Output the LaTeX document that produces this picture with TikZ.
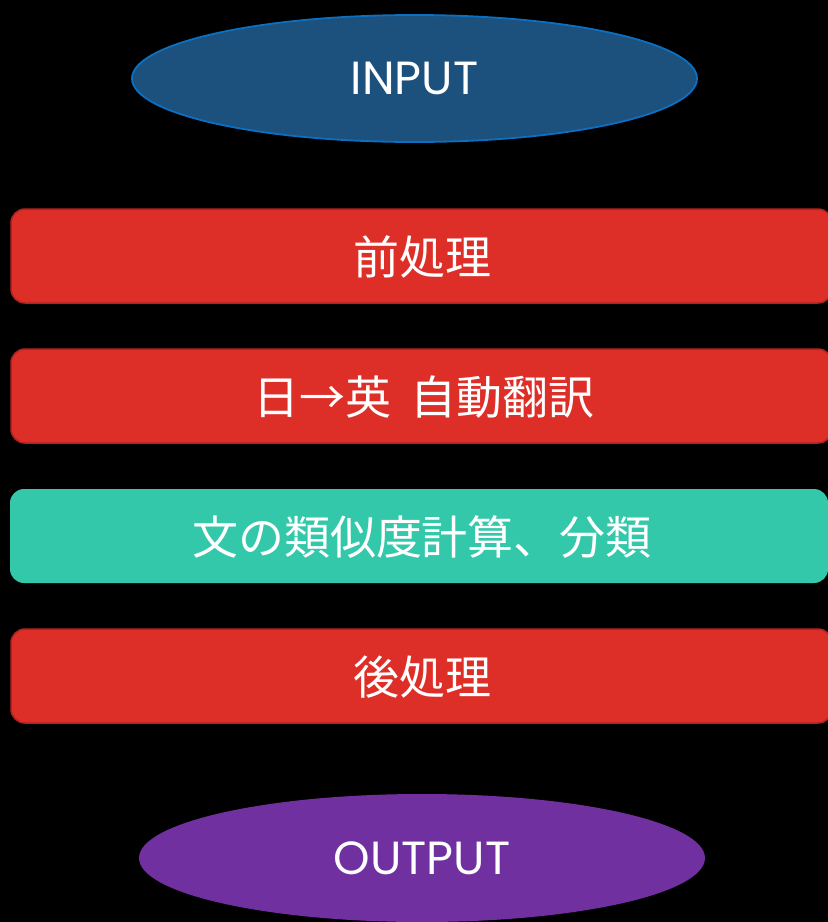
\documentclass[tikz,border=0pt]{standalone}
\usepackage{fontspec}
\setmainfont{Poppins}
\newfontfamily\cjk{Noto Sans CJK JP}
\usetikzlibrary{shapes.geometric}
\definecolor{inblue}{HTML}{1C507D}
\definecolor{inborder}{HTML}{0B70C2}
\definecolor{boxred}{HTML}{DE2E28}
\definecolor{boxredborder}{HTML}{B02420}
\definecolor{boxgreen}{HTML}{33C8AA}
\definecolor{outpurple}{HTML}{7030A0}
\begin{document}
\begin{tikzpicture}[x=1pt,y=-1pt,
  oval/.style={ellipse, inner sep=0pt, text=white, font=\fontsize{46.5}{52}\selectfont},
  stepbox/.style={rounded corners=14pt, line width=1.5pt},
  lbl/.style={text=white, font=\cjk\fontsize{46}{52}\selectfont, inner sep=0pt}]
\fill[black] (0,0) rectangle (828,922);
\useasboundingbox (0,0) rectangle (828,922);
% INPUT
\node[oval, draw=inborder, line width=1.8pt, fill=inblue, minimum width=565pt, minimum height=127pt] (in) at (414.5,78.5) {INPUT};
% boxes
\draw[stepbox, fill=boxred, draw=boxredborder] (11,209) rectangle (832,303);
\node[lbl] (b1) at (422,257) {前処理};
\draw[stepbox, fill=boxred, draw=boxredborder] (11,349) rectangle (832,443);
\node[lbl] (b2) at (424,397) {日→英\hspace{0.4em}自動翻訳};
\fill[boxgreen, rounded corners=14pt] (10,489) rectangle (828,583);
\node[lbl] (b3) at (422,537) {文の類似度計算、分類};
\draw[stepbox, fill=boxred, draw=boxredborder] (11,629) rectangle (832,723);
\node[lbl] (b4) at (422,677) {後処理};
% OUTPUT
\node[oval, fill=outpurple, minimum width=566pt, minimum height=128pt] (out) at (422,858) {OUTPUT};
\end{tikzpicture}
\end{document}
